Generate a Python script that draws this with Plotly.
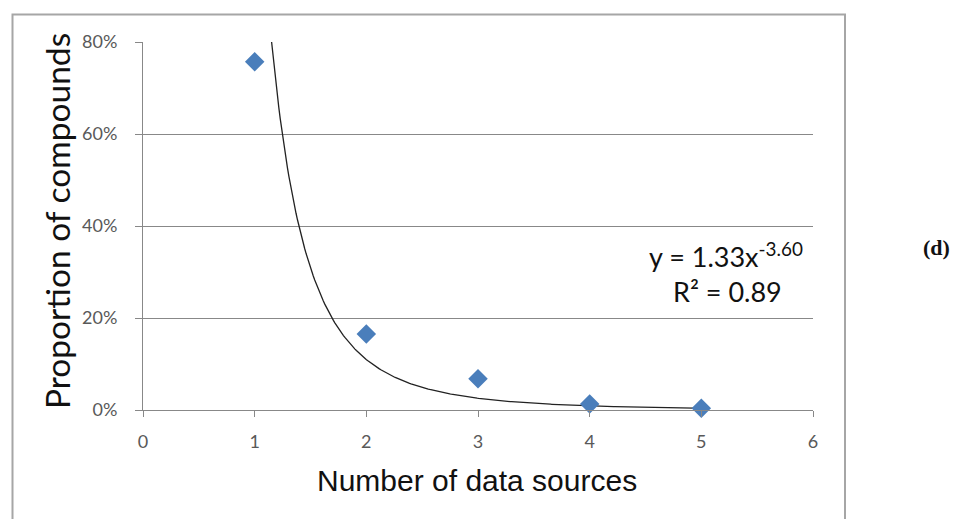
import numpy as np
import plotly.graph_objects as go

# Data
sources = [1, 2, 3, 4, 5]
proportion = [0.757, 0.165, 0.068, 0.013, 0.004]

# Power trendline printed on the chart: y = a * x^b
fit_a = 1.33
fit_b = -3.60
fit_r2 = 0.89

x_ticks = [0, 1, 2, 3, 4, 5, 6]
y_ticks = [0, 0.2, 0.4, 0.6, 0.8]
y_tick_labels = ["0%", "20%", "40%", "60%", "80%"]

W, H = 970, 519
L, R, T, B = 143, 157, 42, 109
pw, ph = W - L - R, H - T - B


def px(xp):
    return (xp - L) / pw


def py(yp):
    return (H - B - yp) / ph


x_start = (0.8 / fit_a) ** (1 / fit_b)
trend_x = np.linspace(x_start, max(sources), 300)
trend_y = fit_a * trend_x ** fit_b

fig = go.Figure()
fig.add_trace(go.Scatter(x=trend_x, y=trend_y, mode="lines",
                         line=dict(color="#222222", width=1.3),
                         hoverinfo="skip", showlegend=False))
fig.add_trace(go.Scatter(x=sources, y=proportion, mode="markers",
                         marker=dict(symbol="diamond", size=15, color="#4a7ebb",
                                     line=dict(width=0)),
                         showlegend=False, cliponaxis=False))

axis_grey = "#888888"
fig.update_layout(
    width=W, height=H,
    margin=dict(l=L, r=R, t=T, b=B),
    paper_bgcolor="white", plot_bgcolor="white",
    font=dict(family="Lato", color="#595959"),
    xaxis=dict(range=[0, 6], tickvals=x_ticks, showgrid=False, zeroline=False,
               showline=True, linecolor=axis_grey, linewidth=1,
               ticks="outside", ticklen=6, tickcolor=axis_grey, tickwidth=1,
               tickfont=dict(family="Lato", size=18, color="#595959"),
               ticklabelstandoff=9),
    yaxis=dict(range=[0, 0.8], tickvals=y_ticks, ticktext=y_tick_labels,
               showgrid=True, gridcolor=axis_grey, gridwidth=1, zeroline=False,
               showline=True, linecolor=axis_grey, linewidth=1,
               ticks="outside", ticklen=7, tickcolor=axis_grey, tickwidth=1,
               tickfont=dict(family="Lato", size=18, color="#595959"),
               ticklabelstandoff=14),
)

# outer chart border
fig.add_shape(type="rect", xref="paper", yref="paper",
              x0=px(12.5), x1=px(845), y0=py(530), y1=py(14.5),
              line=dict(color="#a6a6a6", width=2), fillcolor="rgba(0,0,0,0)",
              layer="below")

fig.add_annotation(text="Number of data sources", xref="paper", yref="paper",
                   x=px(477), y=py(481), showarrow=False,
                   font=dict(family="Liberation Sans", size=30, color="#111111"),
                   xanchor="center", yanchor="middle")
fig.add_annotation(text="Proportion of compounds", xref="paper", yref="paper",
                   x=px(57), y=py(221), showarrow=False, textangle=-90,
                   font=dict(family="Lato", size=33.5, color="#111111"),
                   xanchor="center", yanchor="middle")
fig.add_annotation(text=f"y = {fit_a:.2f}x<sup>{fit_b:.2f}</sup>", xref="paper", yref="paper",
                   x=px(726), y=py(255), showarrow=False,
                   font=dict(family="Lato", size=27, color="#111111"),
                   xanchor="center", yanchor="middle")
fig.add_annotation(text=f"R² = {fit_r2:.2f}", xref="paper", yref="paper",
                   x=px(727), y=py(291), showarrow=False,
                   font=dict(family="Lato", size=27, color="#111111"),
                   xanchor="center", yanchor="middle")
fig.add_annotation(text="<b>(d)</b>", xref="paper", yref="paper",
                   x=px(936), y=py(248), showarrow=False,
                   font=dict(family="Liberation Serif", size=22, color="#111111"),
                   xanchor="center", yanchor="middle")

fig.write_html("out.html", config={"displayModeBar": False},
               post_script="document.body.style.margin='0';document.body.style.overflow='hidden';")
